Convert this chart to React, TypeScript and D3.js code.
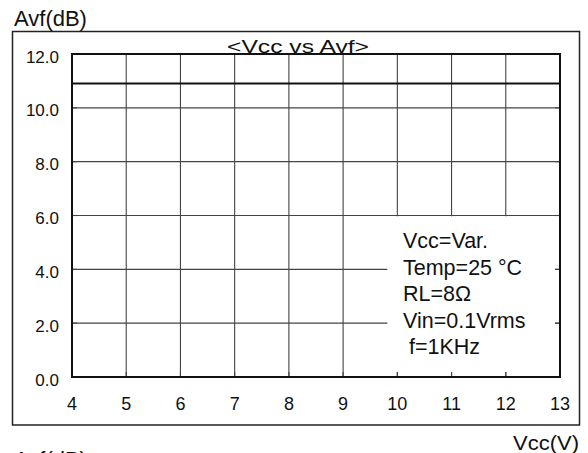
import React from "react";
import * as d3 from "d3";

const vccValues = [4, 5, 6, 7, 8, 9, 10, 11, 12, 13];
const avfValues = [10.9, 10.9, 10.9, 10.9, 10.9, 10.9, 10.9, 10.9, 10.9, 10.9];
const xTicks = [4, 5, 6, 7, 8, 9, 10, 11, 12, 13];
const yTicks = [0, 2, 4, 6, 8, 10, 12];
const conditionLines = ["Vcc=Var.", "Temp=25 °C", "RL=8Ω", "Vin=0.1Vrms", " f=1KHz"];

const W = 588;
const H = 453;
const FONT = "'Liberation Sans', Arial, sans-serif";

export default function App() {
  const x = d3.scaleLinear().domain([4, 13]).range([72, 560]);
  const y = d3.scaleLinear().domain([0, 12]).range([377, 54]);
  const line = d3
    .line<number>()
    .x((_, i) => x(vccValues[i]))
    .y((d) => y(d));

  const boxX0 = x(10) - 10;
  const boxX1 = x(13) - 5;
  const boxY0 = y(6) + 0.8;
  const boxY1 = y(0) - 5;

  return (
    <svg
      width={W}
      height={H}
      style={{ position: "absolute", left: 0, top: 0, background: "#fff" }}
      fontFamily={FONT}
    >
      <rect x={0} y={0} width={W} height={H} fill="#fff" />
      {/* outer frame */}
      <rect x={12.5} y={31.5} width={567} height={393.5} fill="none" stroke="#222" strokeWidth={1.5} />
      {/* top axis label */}
      <text x={14} y={26} fontSize={22} fill="#111">Avf(dB)</text>
      {/* gridlines */}
      {xTicks.slice(1, -1).map((t) => (
        <line key={"gx" + t} x1={x(t)} x2={x(t)} y1={y(12)} y2={y(0)} stroke="#444" strokeWidth={1.1} />
      ))}
      {yTicks.slice(1, -1).map((t) => (
        <line key={"gy" + t} x1={x(4)} x2={x(13)} y1={y(t)} y2={y(t)} stroke="#444" strokeWidth={1.1} />
      ))}
      {/* conditions box (white) */}
      <rect x={boxX0} y={boxY0} width={boxX1 - boxX0} height={boxY1 - boxY0} fill="#fff" />
      {/* tick stubs */}
      {xTicks.slice(1, -1).map((t) => (
        <line key={"tx" + t} x1={x(t)} x2={x(t)} y1={y(0)} y2={y(0) - 5} stroke="#444" strokeWidth={1.1} />
      ))}
      {yTicks.slice(1, -1).map((t) => (
        <g key={"ty" + t}>
          <line x1={x(4)} x2={x(4) + 5} y1={y(t)} y2={y(t)} stroke="#444" strokeWidth={1.1} />
          <line x1={x(13)} x2={x(13) - 5} y1={y(t)} y2={y(t)} stroke="#444" strokeWidth={1.1} />
        </g>
      ))}
      {/* plot border */}
      <rect x={x(4)} y={y(12)} width={x(13) - x(4)} height={y(0) - y(12)} fill="none" stroke="#111" strokeWidth={2} />
      {/* data line */}
      <path d={line(avfValues) || ""} fill="none" stroke="#111" strokeWidth={2} />
      {/* title */}
      <text x={227} y={53} fontSize={17.5} fill="#111" textLength={142} lengthAdjust="spacingAndGlyphs">
        {"<Vcc vs Avf>"}
      </text>
      {/* y tick labels */}
      {yTicks.map((t) => (
        <text key={"yl" + t} x={59} y={y(t) + 8.5} fontSize={17} textAnchor="end" fill="#111">
          {t.toFixed(1)}
        </text>
      ))}
      {/* x tick labels */}
      {xTicks.map((t) => (
        <text key={"xl" + t} x={x(t)} y={410} fontSize={18} textAnchor="middle" fill="#111">
          {t}
        </text>
      ))}
      {/* conditions */}
      {conditionLines.map((s, i) => (
        <text key={"c" + i} x={403} y={248 + i * 26.6} fontSize={21.5} fill="#111" xmlSpace="preserve" style={{ whiteSpace: "pre" }}>
          {s}
        </text>
      ))}
      {/* x axis label */}
      <text x={513} y={450} fontSize={20} fill="#111" textLength={66} lengthAdjust="spacingAndGlyphs">Vcc(V)</text>
      {/* next chart label (cut off by the frame edge, as in the reference) */}
      <text x={14} y={467} fontSize={22} fill="#111">Avf(dB)</text>
    </svg>
  );
}
